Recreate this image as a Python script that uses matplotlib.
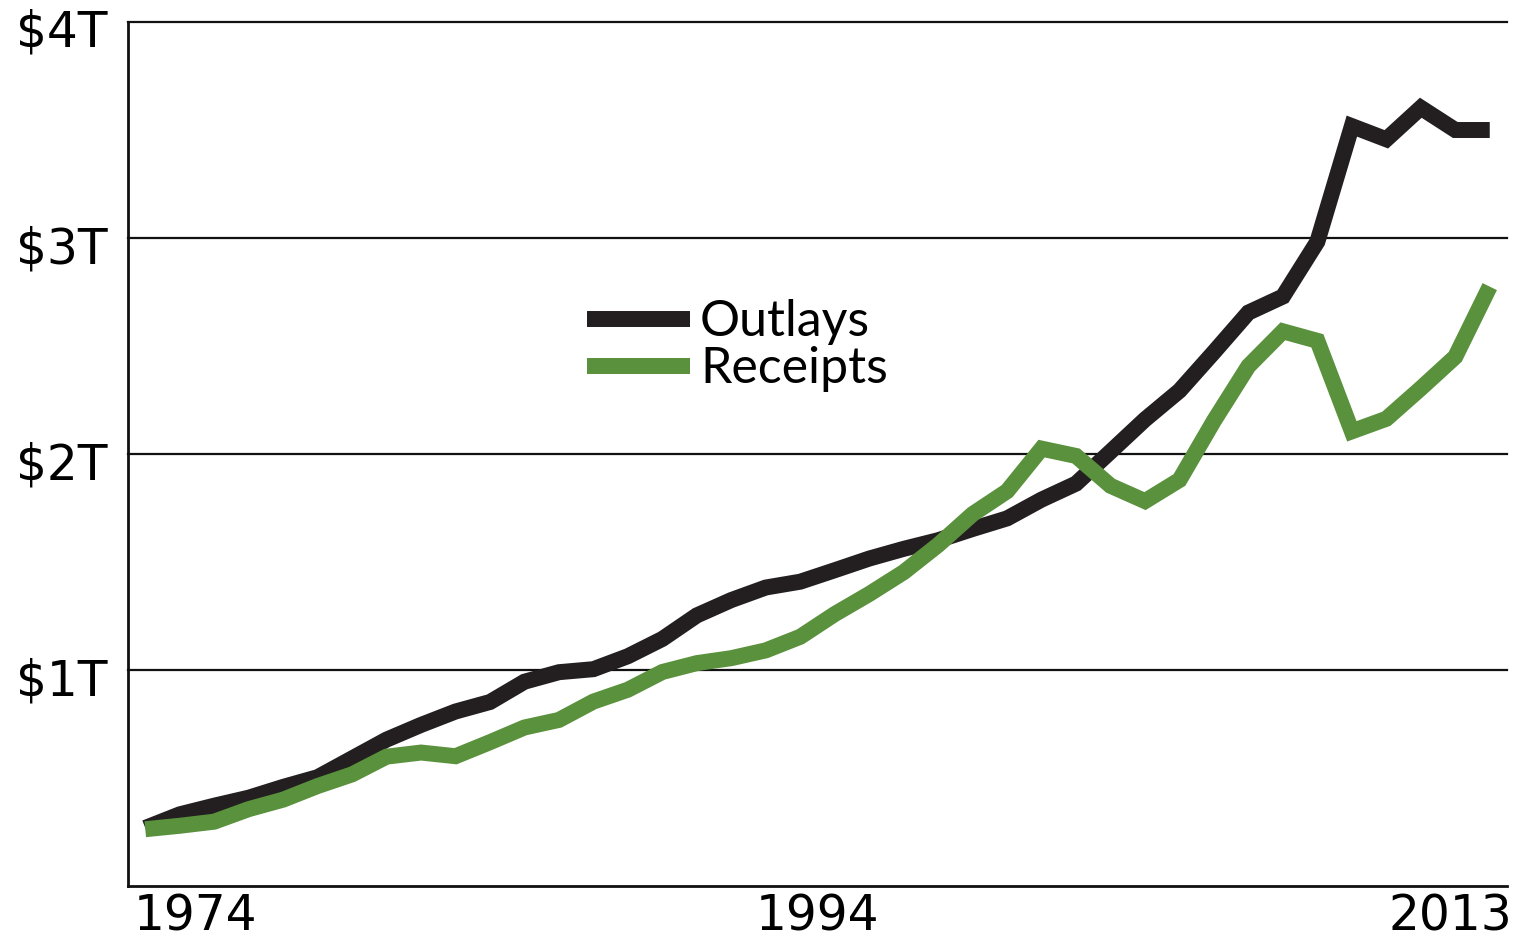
import matplotlib
matplotlib.use('Agg')
import matplotlib.pyplot as plt
import matplotlib.transforms as mtransforms

# Federal outlays and receipts, trillions of dollars
years = list(range(1974, 2014))
outlays = [0.269, 0.332, 0.372, 0.409, 0.459, 0.504, 0.591, 0.678, 0.746, 0.808,
           0.852, 0.946, 0.990, 1.004, 1.064, 1.144, 1.253, 1.324, 1.382, 1.409,
           1.462, 1.516, 1.561, 1.601, 1.653, 1.702, 1.789, 1.863, 2.011, 2.160,
           2.293, 2.472, 2.655, 2.729, 2.983, 3.518, 3.457, 3.603, 3.500, 3.500]
receipts = [0.263, 0.279, 0.298, 0.356, 0.400, 0.463, 0.517, 0.599, 0.618, 0.601,
            0.666, 0.734, 0.769, 0.854, 0.909, 0.991, 1.032, 1.055, 1.091, 1.154,
            1.259, 1.352, 1.453, 1.579, 1.722, 1.828, 2.025, 1.991, 1.853, 1.782,
            1.880, 2.154, 2.407, 2.568, 2.524, 2.105, 2.163, 2.304, 2.450, 2.775]

y_ticks = [1, 2, 3, 4]
y_labels = ['$1T', '$2T', '$3T', '$4T']
x_labels = ['1974', '1994', '2013']
x_label_pos = [1975.45, 1993.5, 2011.85]

fig = plt.figure(figsize=(15.17, 9.4), dpi=100)
ax = fig.add_axes([0.0844, 0.0574, 0.909, 0.9192])

ax.plot(years, outlays, color='#231f20', lw=11.5, solid_joinstyle='miter',
        solid_capstyle='butt', label='Outlays', zorder=3)
ax.plot(years, receipts, color='#5a913c', lw=11.5, solid_joinstyle='miter',
        solid_capstyle='butt', label='Receipts', zorder=4)

ax.set_xlim(1973.5, 2013.5)
ax.set_ylim(0, 4)

for v in y_ticks:
    ax.axhline(v, color='#111111', lw=1.6, zorder=1, clip_on=False)

ax.set_yticks(y_ticks)
ax.set_yticklabels(y_labels, fontsize=35, fontfamily='DejaVu Sans')
ax.set_xticks(x_label_pos)
ax.set_xticklabels(x_labels, fontsize=35, fontfamily='DejaVu Sans')
ax.tick_params(axis='both', length=0)
ax.tick_params(axis='y', pad=15)
ax.tick_params(axis='x', pad=5)

# y labels sit a little below their gridlines
shift = mtransforms.ScaledTranslation(0, -6 / 100, fig.dpi_scale_trans)
for lbl in ax.get_yticklabels():
    lbl.set_transform(lbl.get_transform() + shift)

for s in ['top', 'right']:
    ax.spines[s].set_visible(False)
for s in ['left', 'bottom']:
    ax.spines[s].set_linewidth(2)
    ax.spines[s].set_color('#111111')

leg = ax.legend(loc='upper left', bbox_to_anchor=(0.315, 0.708), frameon=False,
                prop={'family': 'Lato', 'size': 36}, handlelength=2.05,
                handletextpad=0.2, labelspacing=0.02, borderpad=0)

plt.savefig('out.png', dpi=100)
plt.close()
